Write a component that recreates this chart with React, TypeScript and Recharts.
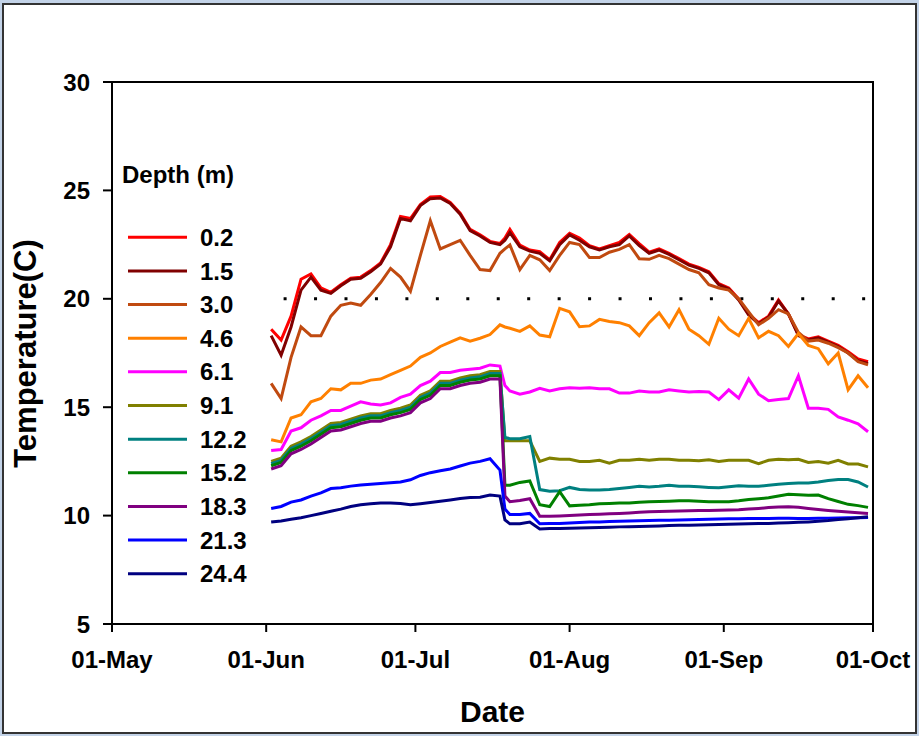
import { LineChart, Line, XAxis, YAxis, ReferenceLine, ReferenceArea, Legend } from "recharts";

const FONT = '"Liberation Sans", Arial, Helvetica, sans-serif';

// x is days counted from 01-May
const monthTicks = [0, 31, 61, 92, 123, 153];
const monthLabels = ["01-May", "01-Jun", "01-Jul", "01-Aug", "01-Sep", "01-Oct"];
const tempTicks = [5, 10, 15, 20, 25, 30];

const days = [
  32, 34, 36, 38, 40, 42, 44, 46,
  48, 50, 52, 54, 56, 58, 60, 62,
  64, 66, 68, 70, 72, 74, 76, 78,
  79, 80, 82, 84, 86, 88, 90, 92,
  94, 96, 98, 100, 102, 104, 106, 108,
  110, 112, 114, 116, 118, 120, 122, 124,
  126, 128, 130, 132, 134, 136, 138, 140,
  142, 144, 146, 148, 150, 152,
];

const depths = ["0.2", "1.5", "3.0", "4.6", "6.1", "9.1", "12.2", "15.2", "18.3", "21.3", "24.4"];
const colors = ["#FF0000", "#800000", "#C04A10", "#FF8000", "#FF00FF", "#808000", "#008080", "#008000", "#800080", "#0000FF", "#000080"];

const t02 = [
  18.6, 18.1, 19.2, 20.9, 21.15, 20.5, 20.3, 20.65,
  20.95, 21.0, 21.3, 21.65, 22.5, 23.8, 23.7, 24.35,
  24.7, 24.72, 24.45, 23.95, 23.2, 22.95, 22.65, 22.55,
  22.8, 23.2, 22.48, 22.25, 22.17, 21.8, 22.6, 23.02,
  22.8, 22.45, 22.3, 22.45, 22.6, 22.97, 22.55, 22.15,
  22.3, 22.1, 21.85, 21.6, 21.45, 21.25, 20.7, 20.5,
  20.0, 19.3, 18.9, 19.2, 19.95, 19.3, 18.35, 18.15,
  18.25, 18.05, 17.85, 17.56, 17.23, 17.1,
];
const t15 = [
  18.3, 17.4, 18.7, 20.4, 21.0, 20.4, 20.25, 20.6,
  20.9, 20.95, 21.25, 21.6, 22.4, 23.7, 23.6, 24.3,
  24.62, 24.65, 24.4, 23.9, 23.15, 22.9, 22.6, 22.5,
  22.7, 23.05, 22.4, 22.2, 22.1, 21.75, 22.5, 22.95,
  22.7, 22.4, 22.25, 22.4, 22.5, 22.9, 22.45, 22.1,
  22.25, 22.05, 21.8, 21.55, 21.4, 21.2, 20.65, 20.45,
  19.95, 19.25, 18.85, 19.15, 19.9, 19.3, 18.3, 18.1,
  18.2, 18.0, 17.8, 17.5, 17.15, 17.02,
];
const t30 = [
  16.1, 15.4, 17.3, 18.7, 18.3, 18.3, 19.2, 19.7,
  19.8, 19.7, 20.2, 20.75, 21.4, 21.0, 20.35, 22.0,
  23.6, 22.3, 22.5, 22.7, 22.0, 21.35, 21.3, 22.1,
  22.3, 22.48, 21.35, 22.0, 21.8, 21.3, 22.0, 22.6,
  22.5, 21.9, 21.9, 22.15, 22.28, 22.5, 21.85, 21.82,
  22.0, 21.85, 21.6, 21.35, 21.2, 20.65, 20.5, 20.4,
  20.0, 19.4, 18.8, 19.1, 19.5, 19.3, 18.45, 18.05,
  18.1, 17.95, 17.75, 17.5, 17.1, 16.95,
];
const t46 = [
  13.5, 13.4, 14.5, 14.65, 15.25, 15.4, 15.85, 15.8,
  16.1, 16.1, 16.25, 16.3, 16.5, 16.7, 16.9, 17.3,
  17.5, 17.8, 18.0, 18.2, 18.05, 18.18, 18.35, 18.8,
  18.7, 18.64, 18.5, 18.75, 18.33, 18.25, 19.56, 19.4,
  18.71, 18.75, 19.05, 18.95, 18.9, 18.75, 18.3, 18.9,
  19.35, 18.7, 19.5, 18.6, 18.3, 17.9, 19.1, 18.6,
  18.3, 19.1, 18.2, 18.5, 18.3, 17.8, 18.4, 17.85,
  17.7, 17.0, 17.5, 15.8, 16.45, 15.9,
];
const t61 = [
  13.0, 13.05, 13.9, 14.05, 14.4, 14.6, 14.85, 14.85,
  15.05, 15.25, 15.15, 15.1, 15.2, 15.45, 15.6, 16.0,
  16.2, 16.6, 16.6, 16.7, 16.75, 16.8, 16.95, 16.9,
  16.0, 15.75, 15.6, 15.7, 15.87, 15.75, 15.85, 15.9,
  15.87, 15.9, 15.85, 15.85, 15.65, 15.65, 15.75, 15.7,
  15.7, 15.8, 15.75, 15.7, 15.72, 15.7, 15.35, 15.8,
  15.42, 16.3, 15.6, 15.3, 15.35, 15.4, 16.45, 14.95,
  14.95, 14.9, 14.55, 14.4, 14.23, 13.87,
];
const t91 = [
  12.5, 12.65, 13.2, 13.4, 13.65, 13.95, 14.25, 14.3,
  14.45, 14.6, 14.7, 14.7, 14.85, 14.95, 15.1, 15.55,
  15.75, 16.2, 16.2, 16.35, 16.45, 16.5, 16.65, 16.65,
  13.45, 13.45, 13.45, 13.45, 12.5, 12.65, 12.6, 12.6,
  12.5, 12.5, 12.55, 12.42, 12.55, 12.55, 12.6, 12.55,
  12.6, 12.6, 12.55, 12.55, 12.53, 12.58, 12.5, 12.55,
  12.55, 12.55, 12.4, 12.55, 12.6, 12.58, 12.6, 12.45,
  12.5, 12.42, 12.55, 12.38, 12.38, 12.25,
];
const t122 = [
  12.4, 12.55, 13.1, 13.3, 13.55, 13.85, 14.15, 14.2,
  14.35, 14.5, 14.6, 14.6, 14.75, 14.85, 15.0, 15.45,
  15.65, 16.1, 16.1, 16.25, 16.35, 16.4, 16.55, 16.55,
  13.6, 13.55, 13.55, 13.65, 11.2, 11.12, 11.15, 11.3,
  11.2, 11.18, 11.18, 11.2, 11.25, 11.3, 11.35, 11.32,
  11.35, 11.4, 11.35, 11.35, 11.33, 11.3, 11.28, 11.33,
  11.38, 11.35, 11.35, 11.4, 11.45, 11.48, 11.5, 11.5,
  11.55, 11.62, 11.66, 11.66, 11.55, 11.32,
];
const t152 = [
  12.3, 12.45, 13.0, 13.2, 13.45, 13.75, 14.05, 14.1,
  14.25, 14.4, 14.5, 14.5, 14.65, 14.75, 14.9, 15.35,
  15.55, 16.0, 16.0, 16.15, 16.25, 16.3, 16.45, 16.45,
  11.4, 11.4, 11.53, 11.6, 10.5, 10.42, 11.1, 10.45,
  10.48, 10.5, 10.55, 10.56, 10.58, 10.58, 10.62, 10.64,
  10.65, 10.66, 10.68, 10.68, 10.66, 10.64, 10.64, 10.64,
  10.68, 10.74, 10.78, 10.82, 10.9, 10.98, 10.96, 10.94,
  10.95, 10.78, 10.65, 10.52, 10.46, 10.38,
];
const t183 = [
  12.15, 12.3, 12.85, 13.05, 13.3, 13.6, 13.9, 13.95,
  14.1, 14.25, 14.35, 14.35, 14.5, 14.6, 14.75, 15.2,
  15.4, 15.85, 15.85, 16.0, 16.1, 16.15, 16.3, 16.3,
  10.9, 10.64, 10.7, 10.78, 9.97, 9.97, 9.98, 10.0,
  10.03, 10.05, 10.06, 10.08, 10.1, 10.12, 10.15, 10.18,
  10.19, 10.2, 10.21, 10.22, 10.23, 10.24, 10.25, 10.26,
  10.27, 10.3, 10.33, 10.37, 10.4, 10.41, 10.38, 10.33,
  10.28, 10.24, 10.2, 10.17, 10.13, 10.1,
];
const t213 = [
  10.33, 10.42, 10.62, 10.72, 10.9, 11.05, 11.25, 11.28,
  11.36, 11.41, 11.45, 11.48, 11.52, 11.55, 11.65, 11.85,
  11.98, 12.07, 12.15, 12.29, 12.42, 12.5, 12.62, 12.1,
  10.3, 10.05, 10.05, 10.1, 9.62, 9.63, 9.64, 9.66,
  9.68, 9.7, 9.71, 9.73, 9.74, 9.75, 9.76, 9.77,
  9.78, 9.79, 9.8, 9.81, 9.82, 9.83, 9.84, 9.85,
  9.86, 9.87, 9.87, 9.87, 9.88, 9.88, 9.87, 9.87,
  9.88, 9.88, 9.89, 9.9, 9.9, 9.91,
];
const t244 = [
  9.7, 9.75, 9.83, 9.9, 10.0, 10.1, 10.2, 10.3,
  10.42, 10.5, 10.55, 10.58, 10.58, 10.56, 10.5, 10.55,
  10.6, 10.66, 10.72, 10.79, 10.84, 10.85, 10.95, 10.9,
  9.8, 9.62, 9.62, 9.7, 9.38, 9.4, 9.41, 9.42,
  9.43, 9.44, 9.45, 9.46, 9.48, 9.49, 9.5, 9.51,
  9.52, 9.54, 9.55, 9.56, 9.57, 9.58, 9.59, 9.6,
  9.61, 9.62, 9.63, 9.64, 9.66, 9.67, 9.69, 9.71,
  9.74, 9.77, 9.82, 9.86, 9.9, 9.95,
];

const series = [t02, t15, t30, t46, t61, t91, t122, t152, t183, t213, t244];

const data = days.map((day, i) => {
  const row: Record<string, number> = { day };
  series.forEach((s, k) => {
    row[`s${k}`] = s[i];
  });
  return row;
});

const tickStyle = { fill: "#000", fontSize: 24, fontWeight: 700, fontFamily: FONT };

function DepthLegend(props: any) {
  // keep depth order (the default payload sorts names as strings)
  const items = [...(props.payload || [])].sort(
    (a: any, b: any) => depths.indexOf(a.value) - depths.indexOf(b.value)
  );
  return (
    <svg width={135} height={440} style={{ display: "block", overflow: "visible" }}>
      <text x={2} y={33} fontFamily={FONT} fontSize={24} fontWeight={700} fill="#000">
        Depth (m)
      </text>
      {items.map((item: any, i: number) => {
        const y = 87.3 + i * 33.64;
        return (
          <g key={item.value}>
            <line x1={8} x2={67} y1={y} y2={y} stroke={item.color} strokeWidth={3} />
            <text x={80} y={y + 8.6} fontFamily={FONT} fontSize={24} fontWeight={700} fill="#000">
              {item.value}
            </text>
          </g>
        );
      })}
    </svg>
  );
}

export default function App() {
  return (
    <div style={{ position: "absolute", left: 0, top: 0, width: 919, height: 736, background: "#C3D3E8" }}>
      <div
        style={{
          position: "absolute",
          left: 2,
          top: 3,
          width: 915,
          height: 731,
          boxSizing: "border-box",
          border: "2px solid #333",
          background: "#fff",
        }}
      />
      <div style={{ position: "absolute", left: 0, top: 0 }}>
        <LineChart width={919} height={736} data={data} margin={{ top: 82, right: 46, bottom: 52, left: 12 }}>
          <ReferenceArea x1={0} x2={153} y1={5} y2={30} fill="none" stroke="#000" strokeWidth={2} />
          <XAxis
            type="number"
            dataKey="day"
            domain={[0, 153]}
            ticks={monthTicks}
            tickFormatter={(v: number) => monthLabels[monthTicks.indexOf(v)]}
            height={60}
            tick={tickStyle}
            tickSize={8}
            tickMargin={19}
            axisLine={{ stroke: "#000", strokeWidth: 2 }}
            tickLine={{ stroke: "#000", strokeWidth: 2 }}
            interval={0}
            allowDataOverflow
          />
          <YAxis
            type="number"
            domain={[5, 30]}
            ticks={tempTicks}
            width={100}
            tick={tickStyle}
            tickSize={9}
            tickMargin={13}
            axisLine={{ stroke: "#000", strokeWidth: 2 }}
            tickLine={{ stroke: "#000", strokeWidth: 2 }}
            interval={0}
            allowDataOverflow
          />
          <ReferenceLine
            segment={[{ x: 34.5, y: 20 }, { x: 153, y: 20 }]}
            stroke="#000"
            strokeWidth={3}
            strokeDasharray="3 27.45"
          />
          {depths.map((name, k) => (
            <Line
              key={name}
              type="linear"
              dataKey={`s${k}`}
              name={name}
              stroke={colors[k]}
              strokeWidth={3}
              dot={false}
              activeDot={false}
              isAnimationActive={false}
            />
          ))}
          <Legend
            layout="vertical"
            align="center"
            verticalAlign="middle"
            wrapperStyle={{ left: 120, top: 150, width: 135, height: 440 }}
            content={<DepthLegend />}
          />
          <text
            transform="translate(36,353.5) rotate(-90)"
            textAnchor="middle"
            fontFamily={FONT}
            fontSize={31}
            fontWeight={700}
            fill="#000"
          >
            Temperature(C)
          </text>
          <text x={492.5} y={722} textAnchor="middle" fontFamily={FONT} fontSize={30} fontWeight={700} fill="#000">
            Date
          </text>
        </LineChart>
      </div>
    </div>
  );
}
